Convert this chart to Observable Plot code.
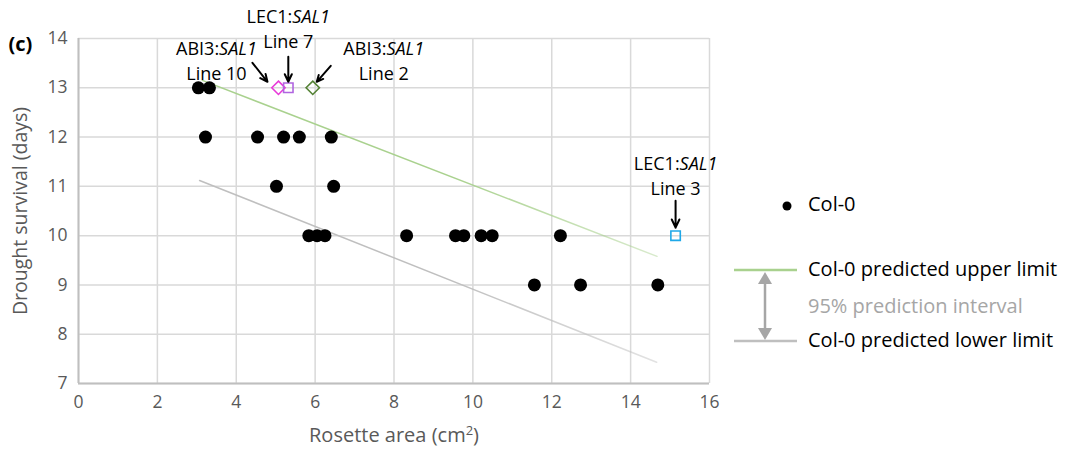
<!DOCTYPE html>
<html><head><meta charset="utf-8">
<script src="https://cdn.jsdelivr.net/npm/d3@7"></script>
<script src="https://cdn.jsdelivr.net/npm/@observablehq/plot@0.6"></script>
<style>
body{margin:0;background:#fff;font-family:"Open Sans",sans-serif}
#wrap{position:relative;width:1065px;height:451px;overflow:hidden}
#wrap > svg{position:absolute;left:0;top:0}
.leg{position:absolute;white-space:nowrap;font-size:20px;color:#000;line-height:1}
</style></head><body><div id="wrap"></div>
<script>
// Col-0 observations
const colArea = [3.04,3.32, 3.22,4.54,5.20,5.60,6.41, 5.02,6.47, 5.84,6.05,6.25,8.32,9.56,9.77,10.21,10.49,12.22, 11.56,12.73,14.69];
const colDays = [13,13, 12,12,12,12,12, 11,11, 10,10,10,10,10,10,10,10,10, 9,9,9];
// Transgenic lines
const lineNames = ["ABI3:SAL1|Line 10","LEC1:SAL1|Line 7","ABI3:SAL1|Line 2","LEC1:SAL1|Line 3"];
const lineArea = [5.07, 5.32, 5.94, 15.14];
const lineDays = [13, 13, 13, 10];
const lineSymbol = ["diamond2","square2","diamond2","square2"];
const lineColor = ["#e83ad9","#b065e0","#548235","#1fa8e8"];
// Prediction interval limits
const upperArea = [3.14, 14.67];
const upperDays = [13.15, 9.58];
const lowerArea = [3.07, 14.66];
const lowerDays = [11.12, 7.43];
// Axis ticks
const xTicks = [0,2,4,6,8,10,12,14,16];
const yTicks = [7,8,9,10,11,12,13,14];

const W = 1065, H = 451, mL = 78, mR = 356, mT = 38, mB = 68;
const pxX = (W - mL - mR) / 16, pxY = (H - mT - mB) / 7;
const FONT = "'Open Sans', sans-serif";

const cols = colArea.map((x, i) => ({x, y: colDays[i]}));
const lines = lineArea.map((x, i) => ({x, y: lineDays[i], t1: lineNames[i].split("|")[0], t2: lineNames[i].split("|")[1], sym: lineSymbol[i], c: lineColor[i]}));
const upper = upperArea.map((x, i) => ({x, y: upperDays[i]}));
const lower = lowerArea.map((x, i) => ({x, y: lowerDays[i]}));

// label offsets (pixels) and arrow offsets (pixels) relative to each marker
const lab = [{dx:-62, dy1:-39, dy2:-14, a:[-26,-25,-11,-6]},
             {dx:0, dy1:-71, dy2:-46, a:[0,-31,0,-6]},
             {dx:71, dy1:-39, dy2:-14, a:[18,-22,4,-6]},
             {dx:0, dy1:-71, dy2:-46, a:[0,-35,0,-8]}];
const arrows = lines.map((d, i) => ({
  x1: d.x + lab[i].a[0]/pxX, y1: d.y - lab[i].a[1]/pxY,
  x2: d.x + lab[i].a[2]/pxX, y2: d.y - lab[i].a[3]/pxY}));

const labelMarks = lines.flatMap((d, i) => [
  Plot.text([d], {x:"x", y:"y", text:"t1", dx:lab[i].dx, dy:lab[i].dy1, fontSize:18, fill:"#000"}),
  Plot.text([d], {x:"x", y:"y", text:"t2", dx:lab[i].dx, dy:lab[i].dy2, fontSize:18, fill:"#000"})
]);

const chart = Plot.plot({
  width: W, height: H,
  marginLeft: mL, marginRight: mR, marginTop: mT, marginBottom: mB,
  style: {fontFamily: FONT, background: "transparent", overflow: "visible"},
  x: {domain: [0,16], ticks: xTicks, label: null},
  y: {domain: [7,14], ticks: yTicks, label: null},
  marks: [
    Plot.gridX(xTicks, {stroke:"#d9d9d9", strokeOpacity:1, strokeWidth:1.5}),
    Plot.gridY(yTicks, {stroke:"#d9d9d9", strokeOpacity:1, strokeWidth:1.5}),
    Plot.ruleX([0], {stroke:"#bfbfbf", strokeWidth:2}),
    Plot.ruleY([7], {stroke:"#bfbfbf", strokeWidth:2}),
    Plot.axisX(xTicks, {tickSize:0, tickPadding:12, fontSize:17.5, fill:"#595959"}),
    Plot.axisY(yTicks, {tickSize:0, tickPadding:11, fontSize:17.5, fill:"#595959"}),
    Plot.line(upper, {x:"x", y:"y", stroke:"url(#gUp)", strokeWidth:1.5}),
    Plot.line(lower, {x:"x", y:"y", stroke:"url(#gLo)", strokeWidth:1.5}),
    Plot.dot(cols, {x:"x", y:"y", r:6.5, fill:"#000"}),
    Plot.dot(lines, {x:"x", y:"y", symbol:"sym", stroke:"c", r:6, strokeWidth:1.6, fill:"none"}),
    Plot.arrow(arrows, {x1:"x1", y1:"y1", x2:"x2", y2:"y2", stroke:"#000", strokeWidth:2, headLength:9, headAngle:50}),
    ...labelMarks,
    Plot.text(["Rosette area (cm²)"], {frameAnchor:"bottom", dy:58, fontSize:20, fill:"#595959"}),
    Plot.text(["Drought survival (days)"], {frameAnchor:"left", textAnchor:"middle", dx:-58, rotate:-90, fontSize:19.5, fill:"#595959"}),
    Plot.text(["(c)"], {frameAnchor:"top-left", textAnchor:"start", dx:-70, dy:-2, fontSize:20, fontWeight:"bold", fill:"#000"})
  ]
});
chart.setAttribute("width", W);
document.getElementById("wrap").appendChild(chart);

// fading gradients for the prediction limit lines
const defs = d3.select(chart).insert("defs", ":first-child");
[["gUp", "#a9d18e"], ["gLo", "#bfbfbf"]].forEach(([id, c]) => {
  const g = defs.append("linearGradient").attr("id", id).attr("x1", "0%").attr("x2", "100%").attr("y1", "0%").attr("y2", "0%");
  g.append("stop").attr("offset", "0%").attr("stop-color", c).attr("stop-opacity", 1);
  g.append("stop").attr("offset", "55%").attr("stop-color", c).attr("stop-opacity", 1);
  g.append("stop").attr("offset", "100%").attr("stop-color", c).attr("stop-opacity", 0.45);
});

// italic gene names within labels
d3.select(chart).selectAll("text").filter(function(){return /:SAL1$/.test(d3.select(this).text());}).each(function() {
  const s = d3.select(this), t = s.text(), k = t.indexOf(":") + 1;
  s.text(null);
  s.append("tspan").text(t.slice(0, k));
  s.append("tspan").attr("font-style", "italic").text(t.slice(k));
});
// superscript in x label
d3.select(chart).selectAll("text").filter(function(){return d3.select(this).text()==="Rosette area (cm²)";}).each(function(){
  const s = d3.select(this); s.text(null);
  s.append("tspan").text("Rosette area (cm");
  s.append("tspan").attr("dy","-7").attr("font-size","13").text("2");
  s.append("tspan").attr("dy","7").text(")");
});

// Legend
const wrap = document.getElementById("wrap");
const lg = d3.select(wrap).append("svg").attr("width", 340).attr("height", 200)
  .style("position","absolute").style("left","725px").style("top","180px");
lg.append("circle").attr("cx", 62).attr("cy", 26).attr("r", 4.5).attr("fill", "#000");
lg.append("line").attr("x1", 9).attr("x2", 72).attr("y1", 90).attr("y2", 90).attr("stroke", "#a9d18e").attr("stroke-width", 2.5);
lg.append("line").attr("x1", 9).attr("x2", 72).attr("y1", 161).attr("y2", 161).attr("stroke", "#bfbfbf").attr("stroke-width", 2.5);
lg.append("line").attr("x1", 40).attr("x2", 40).attr("y1", 100).attr("y2", 152).attr("stroke", "#a6a6a6").attr("stroke-width", 2.5);
lg.append("path").attr("d", "M33,104 L40,92 L47,104 Z").attr("fill", "#a6a6a6");
lg.append("path").attr("d", "M33,148 L40,160 L47,148 Z").attr("fill", "#a6a6a6");
const items = [["Col-0", 206, "#000"], ["Col-0 predicted upper limit", 271, "#000"], ["95% prediction interval", 308, "#a6a6a6"], ["Col-0 predicted lower limit", 342, "#000"]];
items.forEach(([t, y, c]) => {
  d3.select(wrap).append("div").attr("class", "leg").style("left", "808px").style("top", (y - 12) + "px").style("color", c).text(t);
});
</script></body></html>
